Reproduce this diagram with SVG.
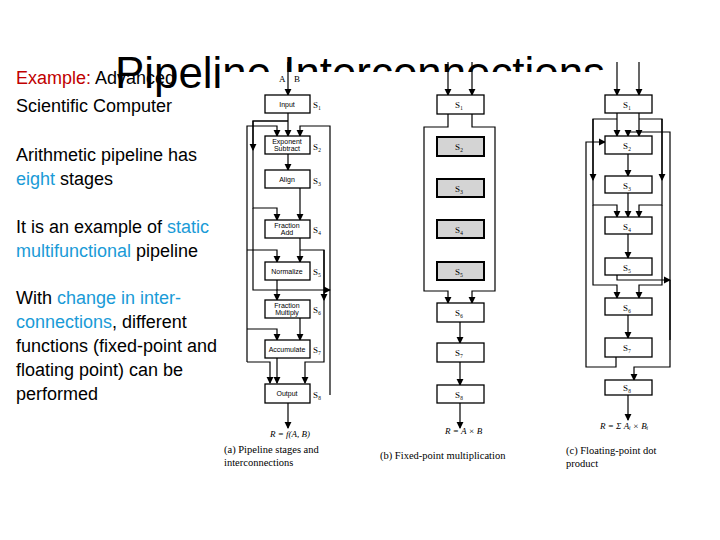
<svg xmlns="http://www.w3.org/2000/svg" width="720" height="540" viewBox="0 0 720 540">
<style>
.t{font-family:"Liberation Sans",Arial,sans-serif;font-size:18px;fill:#000}
.r{fill:#c00000}.b{fill:#1a9bd7}
.box{fill:#fff;stroke:#000;stroke-width:1.3}
.g{fill:#d4d4d4;stroke:#000;stroke-width:2}
.bl{font-family:"Liberation Sans",Arial,sans-serif;font-size:7px;text-anchor:middle;fill:#000}
.sl{font-family:"Liberation Serif",serif;font-size:9px;fill:#000}
.cap{font-family:"Liberation Serif",serif;font-size:10.5px;fill:#000}
#conn path{fill:none;stroke:#000;stroke-width:1.2}
</style>
<defs><marker id="a" viewBox="0 0 8 8" refX="7" refY="4" markerWidth="6" markerHeight="6" orient="auto"><path d="M0,0L8,4L0,8z"/></marker></defs>
<rect width="720" height="540" fill="#fff"/>
<text x="115" y="88" font-family="Liberation Sans,Arial,sans-serif" font-size="44" textLength="490" lengthAdjust="spacingAndGlyphs">Pipeline Interconnections</text>
<rect x="222" y="72" width="490" height="405" fill="#fff"/>
<g id="text">
<text class="t" x="16" y="84"><tspan class="r">Example: </tspan>Advanced</text>
<text class="t" x="16" y="112">Scientific Computer</text>
<text class="t" x="16" y="161">Arithmetic pipeline has</text>
<text class="t" x="16" y="185"><tspan class="b">eight</tspan> stages</text>
<text class="t" x="16" y="233">It is an example of <tspan class="b">static</tspan></text>
<text class="t" x="16" y="257"><tspan class="b">multifunctional</tspan> pipeline</text>
<text class="t" x="16" y="304">With <tspan class="b">change in inter-</tspan></text>
<text class="t" x="16" y="328"><tspan class="b">connections</tspan>, different</text>
<text class="t" x="16" y="352">functions (fixed-point and</text>
<text class="t" x="16" y="376">floating point) can be</text>
<text class="t" x="16" y="400">performed</text>
</g>
<g id="conn" marker-end="url(#a)">
<path d="M288,62V95"/><path d="M288,113V136"/><path d="M288,154V170"/><path d="M300,188V220"/><path d="M300,238V262"/><path d="M300,318V340"/><path d="M288,403V428"/>
<path d="M288,121H253V208H277V220"/><path d="M253,208V290H277V300"/>
<path d="M288,121H253V150"/>
<path d="M247,362V126H277V136"/><path d="M247,250H277V262"/><path d="M247,329H277V340"/>
<path d="M247,362H270V383"/><path d="M277,358V383"/>
<path d="M330,395V126H300V136"/><path d="M277,280V290H330"/>
<path d="M300,250H324V362H305V383"/><path d="M324,250V300"/>
<path d="M448,62V95"/><path d="M472,62V95"/>
<path d="M448,114V127H424V291H448V303"/><path d="M472,114V127H495V291H472V303"/>
<path d="M460,322V343"/><path d="M460,362V385"/><path d="M460,403V428"/>
<path d="M617,62V95"/><path d="M639,62V95"/>
<path d="M617,113V136"/><path d="M639,113V136"/><path d="M628,154V176"/><path d="M628,193V217"/><path d="M628,234V258"/><path d="M628,315V338"/><path d="M628,395V420"/>
<path d="M617,119H593V205H617V217"/><path d="M593,205V285H617V298"/><path d="M593,119V180"/>
<path d="M639,119H662V205H639V217"/><path d="M662,205V285H639V298"/><path d="M662,119V180"/>
<path d="M616,357V367H586V142H605"/>
<path d="M617,275V280H670"/><path d="M670,340V132H628V136"/><path d="M670,280V367H634V380"/>
</g>
<g id="pa">
<rect class="box" x="265" y="95" width="45" height="18"/><text class="bl" x="287" y="107">Input</text><text class="sl" x="313" y="108">S₁</text>
<text class="sl" x="279" y="82">A</text><text class="sl" x="294" y="82">B</text>
<rect class="box" x="265" y="136" width="45" height="18"/><text class="bl" x="287" y="144">Exponent</text><text class="bl" x="287" y="151">Subtract</text><text class="sl" x="313" y="150">S₂</text>
<rect class="box" x="265" y="170" width="45" height="18"/><text class="bl" x="287" y="182">Align</text><text class="sl" x="313" y="184">S₃</text>
<rect class="box" x="265" y="220" width="45" height="18"/><text class="bl" x="287" y="228">Fraction</text><text class="bl" x="287" y="235">Add</text><text class="sl" x="313" y="233">S₄</text>
<rect class="box" x="265" y="262" width="45" height="18"/><text class="bl" x="287" y="274">Normalize</text><text class="sl" x="313" y="275">S₅</text>
<rect class="box" x="265" y="300" width="45" height="18"/><text class="bl" x="287" y="308">Fraction</text><text class="bl" x="287" y="315">Multiply</text><text class="sl" x="313" y="313">S₆</text>
<rect class="box" x="265" y="340" width="45" height="18"/><text class="bl" x="287" y="352">Accumulate</text><text class="sl" x="313" y="353">S₇</text>
<rect class="box" x="265" y="384" width="45" height="19"/><text class="bl" x="287" y="396">Output</text><text class="sl" x="313" y="398">S₈</text>
<text class="sl" x="270" y="437" font-style="italic" font-size="8">R = f(A, B)</text>
<text class="cap" x="224" y="453">(a)  Pipeline  stages  and</text><text class="cap" x="224" y="466">interconnections</text>
</g>
<g id="pb">
<rect class="box" x="437" y="95" width="47" height="19"/><text class="sl" x="455" y="108">S₁</text>
<rect class="g" x="437" y="137" width="47" height="19"/><text class="sl" x="455" y="150">S₂</text>
<rect class="g" x="437" y="179" width="47" height="18"/><text class="sl" x="455" y="192">S₃</text>
<rect class="g" x="437" y="220" width="47" height="18"/><text class="sl" x="455" y="233">S₄</text>
<rect class="g" x="437" y="262" width="47" height="18"/><text class="sl" x="455" y="275">S₅</text>
<rect class="box" x="437" y="303" width="47" height="19"/><text class="sl" x="455" y="316">S₆</text>
<rect class="box" x="437" y="343" width="47" height="19"/><text class="sl" x="455" y="356">S₇</text>
<rect class="box" x="437" y="385" width="47" height="18"/><text class="sl" x="455" y="398">S₈</text>
<text class="sl" x="445" y="434" font-style="italic" font-size="7">R = A × B</text>
<text class="cap" x="380" y="459">(b) Fixed-point multiplication</text>
</g>
<g id="pc">
<rect class="box" x="605" y="95" width="47" height="18"/><text class="sl" x="623" y="108">S₁</text>
<rect class="box" x="605" y="136" width="47" height="18"/><text class="sl" x="623" y="149">S₂</text>
<rect class="box" x="605" y="176" width="47" height="17"/><text class="sl" x="623" y="189">S₃</text>
<rect class="box" x="605" y="217" width="47" height="17"/><text class="sl" x="623" y="230">S₄</text>
<rect class="box" x="605" y="258" width="47" height="17"/><text class="sl" x="623" y="271">S₅</text>
<rect class="box" x="605" y="298" width="47" height="17"/><text class="sl" x="623" y="311">S₆</text>
<rect class="box" x="605" y="338" width="47" height="19"/><text class="sl" x="623" y="351">S₇</text>
<rect class="box" x="605" y="380" width="47" height="15"/><text class="sl" x="623" y="391">S₈</text>
<text class="sl" x="600" y="429" font-style="italic" font-size="7">R = Σ Aᵢ × Bᵢ</text>
<text class="cap" x="566" y="454">(c)   Floating-point   dot</text><text class="cap" x="566" y="467">product</text>
</g>
</svg>
